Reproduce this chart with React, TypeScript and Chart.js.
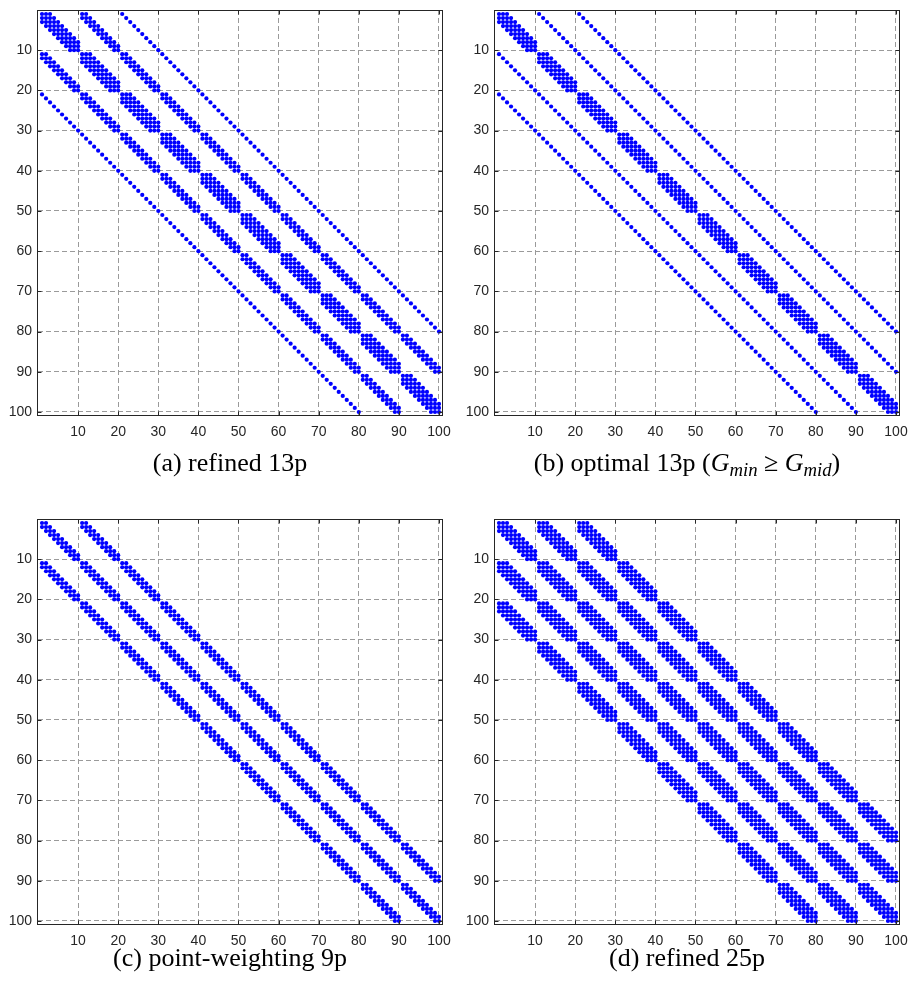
import React, { useEffect, useRef } from "react";
import { Chart, registerables } from "chart.js";

Chart.register(...registerables);

// ---- data: 10x10 grid, sparsity pattern of the 100x100 matrices ----
const gridSize = 10;
const axisMin = 0;
const axisMax = 101;
const tickValues = [10, 20, 30, 40, 50, 60, 70, 80, 90, 100];
const tickLabels = ["10", "20", "30", "40", "50", "60", "70", "80", "90", "100"];

// stencil couplings [dy (grid row), dx (grid column)]
const stencilRefined13 = [
  [-2, 0],
  [-1, -1], [-1, 0], [-1, 1],
  [0, -2], [0, -1], [0, 0], [0, 1], [0, 2],
  [1, -1], [1, 0], [1, 1],
  [2, 0],
];
const stencilOptimal13 = [
  [-2, 0],
  [-1, 0],
  [0, -2], [0, -1], [0, 0], [0, 1], [0, 2],
  [1, 0],
  [2, 0],
];
const stencilPointWeighting9 = [
  [-1, -1], [-1, 0], [-1, 1],
  [0, -1], [0, 0], [0, 1],
  [1, -1], [1, 0], [1, 1],
];
const stencilRefined25 = [
  [-2, -2], [-2, -1], [-2, 0], [-2, 1], [-2, 2],
  [-1, -2], [-1, -1], [-1, 0], [-1, 1], [-1, 2],
  [0, -2], [0, -1], [0, 0], [0, 1], [0, 2],
  [1, -2], [1, -1], [1, 0], [1, 1], [1, 2],
  [2, -2], [2, -1], [2, 0], [2, 1], [2, 2],
];

function sparsity(stencil: number[][]) {
  const pts: { x: number; y: number }[] = [];
  for (let i = 0; i < gridSize * gridSize; i++) {
    const r = Math.floor(i / gridSize);
    const c = i % gridSize;
    for (const [dy, dx] of stencil) {
      const rr = r + dy;
      const cc = c + dx;
      if (rr < 0 || rr >= gridSize || cc < 0 || cc >= gridSize) continue;
      pts.push({ x: rr * gridSize + cc + 1, y: i + 1 });
    }
  }
  return pts;
}

// ---- layout ----
type PanelDef = {
  key: string;
  stencil: number[][];
  left: number;
  top: number;
  width: number;
  height: number;
  yAxisWidth: number;
  padRight: number;
  padTop: number;
  xAxisHeight: number;
};

const panels: PanelDef[] = [
  { key: "a", stencil: stencilRefined13, left: 0, top: 0, width: 455, height: 460, yAxisWidth: 38, padRight: 12, padTop: 10, xAxisHeight: 44 },
  { key: "b", stencil: stencilOptimal13, left: 455, top: 0, width: 455, height: 460, yAxisWidth: 40, padRight: 10, padTop: 10, xAxisHeight: 44 },
  { key: "c", stencil: stencilPointWeighting9, left: 0, top: 509, width: 455, height: 460, yAxisWidth: 38, padRight: 12, padTop: 10, xAxisHeight: 44 },
  { key: "d", stencil: stencilRefined25, left: 455, top: 509, width: 455, height: 460, yAxisWidth: 40, padRight: 10, padTop: 10, xAxisHeight: 44 },
];

const axisColor = "#262626";
const tickFont = { family: "'Liberation Sans', Arial, Helvetica, sans-serif", size: 14 };

const boxPlugin = {
  id: "matlabBox",
  afterDatasetsDraw(chart: any) {
    const { ctx, chartArea, scales } = chart;
    const l = Math.round(chartArea.left) - 0.5;
    const r = Math.round(chartArea.right) - 0.5;
    const t = Math.round(chartArea.top) + 0.5;
    const b = Math.round(chartArea.bottom) - 0.5;
    ctx.save();
    ctx.strokeStyle = axisColor;
    ctx.lineWidth = 1;
    ctx.setLineDash([]);
    ctx.strokeRect(l, t, r - l, b - t);
    const tl = 4;
    ctx.beginPath();
    for (const v of tickValues) {
      const px = Math.round(scales.x.getPixelForValue(v)) + 0.5;
      ctx.moveTo(px, b);
      ctx.lineTo(px, b - tl);
      ctx.moveTo(px, t);
      ctx.lineTo(px, t + tl);
      const py = Math.round(scales.y.getPixelForValue(v)) + 0.5;
      ctx.moveTo(l, py);
      ctx.lineTo(l + tl, py);
      ctx.moveTo(r, py);
      ctx.lineTo(r - tl, py);
    }
    ctx.stroke();
    ctx.restore();
  },
};

function SpyPanel({ def }: { def: PanelDef }) {
  const ref = useRef<HTMLCanvasElement | null>(null);
  useEffect(() => {
    if (!ref.current) return;
    const points = sparsity(def.stencil);
    const setTicks = (s: any) => {
      s.ticks = tickValues.map((v) => ({ value: v }));
    };
    const fmt = (value: any) => {
      const idx = tickValues.indexOf(Number(value));
      return idx >= 0 ? tickLabels[idx] : "";
    };
    const chart = new Chart(ref.current, {
      type: "scatter",
      data: {
        datasets: [
          {
            data: points,
            pointRadius: 2.1,
            pointHoverRadius: 2.1,
            pointBorderWidth: 0,
            pointBackgroundColor: "#0000ff",
            pointBorderColor: "#0000ff",
          },
        ],
      },
      options: {
        animation: false,
        responsive: false,
        events: [],
        layout: { padding: { left: 0, top: def.padTop, right: def.padRight, bottom: 0 } },
        plugins: { legend: { display: false }, tooltip: { enabled: false } },
        scales: {
          x: {
            type: "linear",
            min: axisMin,
            max: axisMax,
            afterBuildTicks: setTicks,
            afterFit: (s: any) => {
              s.height = def.xAxisHeight;
              s.paddingLeft = 0;
              s.paddingRight = 0;
            },
            grid: { color: "#9a9a9a", lineWidth: 1, drawTicks: false },
            border: { display: false, dash: [5, 3] },
            ticks: { color: axisColor, font: tickFont, padding: 8, maxRotation: 0, autoSkip: false, callback: fmt },
          },
          y: {
            type: "linear",
            min: axisMin,
            max: axisMax,
            reverse: true,
            afterBuildTicks: setTicks,
            afterFit: (s: any) => {
              s.width = def.yAxisWidth;
              s.paddingTop = 0;
              s.paddingBottom = 0;
            },
            grid: { color: "#9a9a9a", lineWidth: 1, drawTicks: false },
            border: { display: false, dash: [5, 3] },
            ticks: { color: axisColor, font: tickFont, padding: 6, autoSkip: false, callback: fmt },
          },
        },
      } as any,
      plugins: [boxPlugin],
    });
    return () => chart.destroy();
  }, [def]);
  return (
    <canvas
      ref={ref}
      width={def.width}
      height={def.height}
      style={{ position: "absolute", left: def.left, top: def.top, width: def.width, height: def.height }}
    />
  );
}

const captionStyle: React.CSSProperties = {
  position: "absolute",
  transform: "translateX(-50%)",
  whiteSpace: "nowrap",
  fontFamily: "'Liberation Serif', 'Times New Roman', Times, serif",
  fontSize: 26,
  lineHeight: "30px",
  color: "#000",
};
const subStyle: React.CSSProperties = { fontSize: "0.72em", fontStyle: "italic", verticalAlign: "-0.25em" };

export default function App() {
  return (
    <div style={{ position: "absolute", left: 0, top: 0, width: 910, height: 989, background: "#fff" }}>
      {panels.map((p) => (
        <SpyPanel key={p.key} def={p} />
      ))}
      <div style={{ ...captionStyle, left: 230, top: 448 }}>(a) refined 13p</div>
      <div style={{ ...captionStyle, left: 687, top: 448 }}>
        (b) optimal 13p (<i>G</i>
        <span style={subStyle}>min</span> ≥ <i>G</i>
        <span style={subStyle}>mid</span>)
      </div>
      <div style={{ ...captionStyle, left: 230, top: 943 }}>(c) point-weighting 9p</div>
      <div style={{ ...captionStyle, left: 687, top: 943 }}>(d) refined 25p</div>
    </div>
  );
}
